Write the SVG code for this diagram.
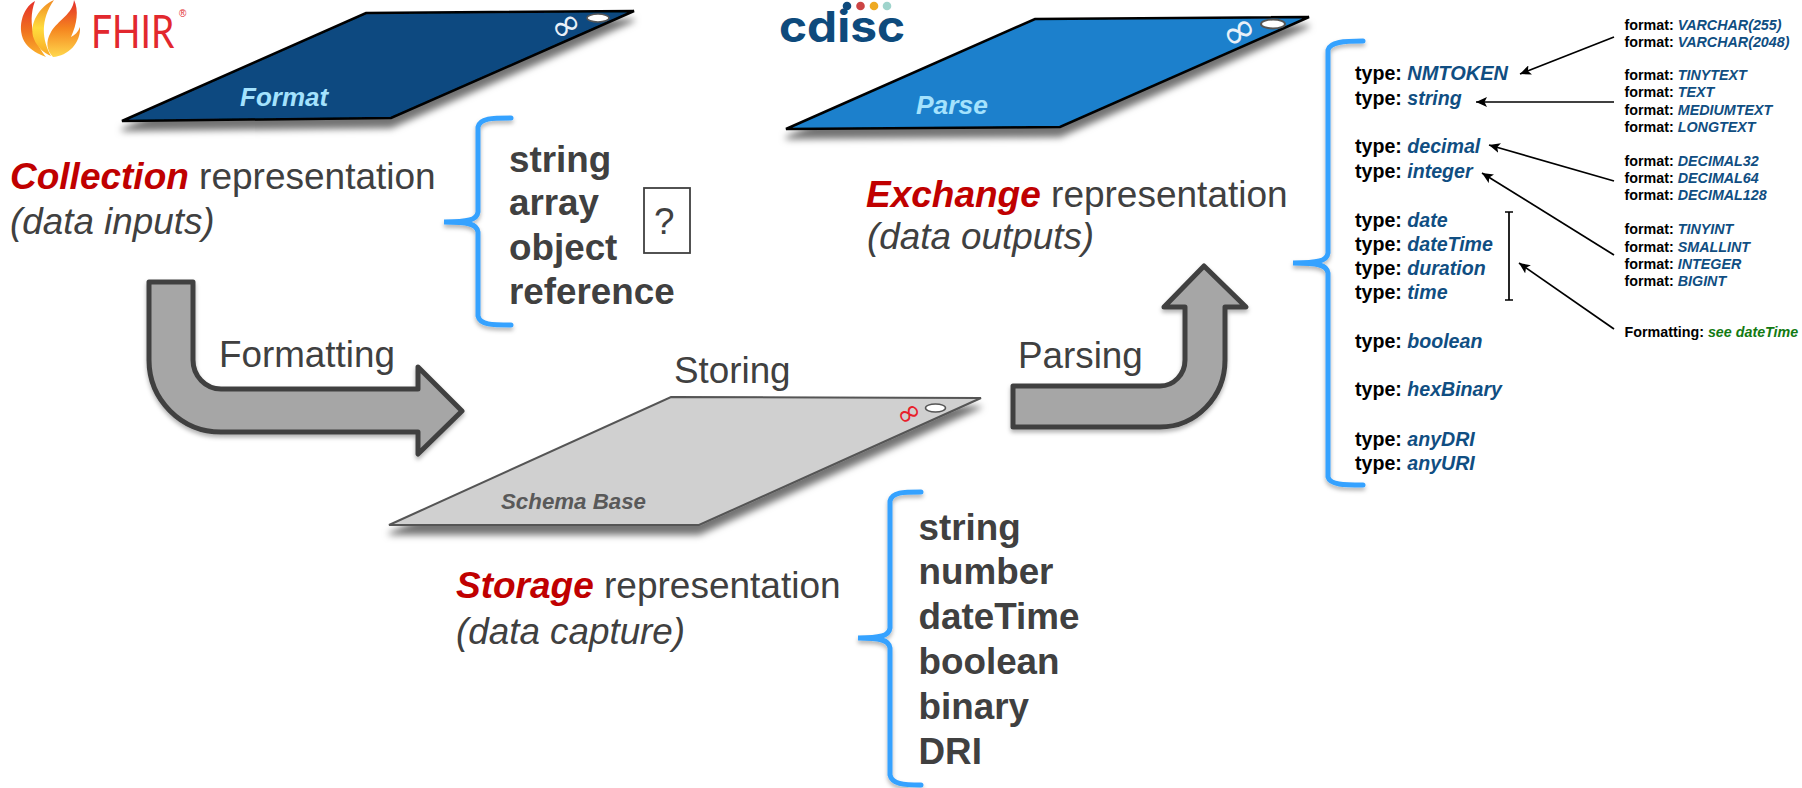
<svg xmlns="http://www.w3.org/2000/svg" width="1802" height="788" viewBox="0 0 1802 788">
<style>
text{font-family:"Liberation Sans",Arial,sans-serif}
.g{fill:#404040}
.h{font-size:37px}
.sub{font-size:36.8px;font-style:italic}
.em{font-weight:bold;font-style:italic;fill:#c00000}
.lst{font-size:36.8px;font-weight:bold}
.lbl{font-size:36.8px}
.ty{font-size:19.6px;font-weight:bold;fill:#000}
.fm{font-size:14.3px;font-weight:bold;fill:#000}
.v{font-style:italic;fill:#104e82}
.gv{font-style:italic;fill:#127a12}
.brace{fill:none;stroke:#36a2ff;stroke-width:5;stroke-linecap:round;filter:url(#soft)}
.big{fill:#a6a6a6;stroke:#404040;stroke-width:5;stroke-linejoin:round;filter:url(#soft)}
.thin{fill:none;stroke:#000;stroke-width:1.7}
.plane{stroke-linejoin:miter;filter:url(#plane)}
.pl{font-weight:bold;font-style:italic}
.inf{font-size:42px;font-family:"DejaVu Sans",sans-serif}
</style>
<defs>
<filter id="plane" x="-10%" y="-10%" width="120%" height="130%"><feDropShadow dx="0" dy="9" stdDeviation="3.5" flood-color="#000" flood-opacity=".55"/></filter>
<filter id="soft" x="-10%" y="-10%" width="120%" height="120%"><feDropShadow dx="0" dy="3" stdDeviation="2" flood-color="#000" flood-opacity=".3"/></filter>
<marker id="ah" markerUnits="userSpaceOnUse" markerWidth="12" markerHeight="10" refX="11" refY="5" orient="auto"><path d="M11,5 L0,0 L2.5,5 L0,10 Z" fill="#000"/></marker>
<linearGradient id="fl1" x1="0" y1="0" x2="0" y2="1"><stop offset="0" stop-color="#e5302a"/><stop offset=".55" stop-color="#f0741f"/><stop offset="1" stop-color="#fbb52d"/></linearGradient>
<linearGradient id="fl2" x1="0" y1="0" x2="0" y2="1"><stop offset="0" stop-color="#f08a23"/><stop offset=".5" stop-color="#ffdc3d"/><stop offset="1" stop-color="#f9a825"/></linearGradient>
<linearGradient id="fl3" x1="0" y1="0" x2="0" y2="1"><stop offset="0" stop-color="#e32b2b"/><stop offset=".5" stop-color="#f5851f"/><stop offset="1" stop-color="#ffd84d"/></linearGradient>
</defs>
<rect width="1802" height="788" fill="#fff"/>

<g id="logo-fhir">
<path d="M35,1 C22,8 16,30 26,44 C31,50 38,54 46,57 C37,45 26,26 35,1 Z" fill="url(#fl1)"/>
<path d="M54,0 C40,6 28,24 34,39 C37,47 44,53 51,56 C42,40 40,20 54,0 Z" fill="url(#fl2)"/>
<path d="M74,0 C73,14 58,20 51,32 C45,42 47,51 53,57 C68,56 81,43 80,27 C78,32 75,35 71,37 C77,24 79,10 74,0 Z" fill="url(#fl3)"/>
<text font-size="46" fill="#e2282e" transform="translate(91,48) scale(.81,1)" style="font-family:Lato,'Liberation Sans',sans-serif;font-weight:400">FHIR</text>
<text x="179" y="17" font-size="10" fill="#e2282e">®</text>
</g>

<g id="logo-cdisc">
<text x="779" y="42" font-size="43" fill="#0e4a7c" style="font-family:Inter,'Liberation Sans',sans-serif;font-weight:700" textLength="126" lengthAdjust="spacingAndGlyphs">cdisc</text>
<circle cx="847" cy="6" r="4.3" fill="#0e4a7c"/><circle cx="860.5" cy="6" r="4.3" fill="#cc4444"/><circle cx="874" cy="6" r="4.3" fill="#eeaa22"/><circle cx="887" cy="6" r="4.3" fill="#9fd4cc"/>
</g>

<g id="connectors">
<path class="big" d="M149,282 L193,282 L193,360 A28,29 0 0 0 221,389 L418,389 L418,367 L462,411 L418,454 L418,432 L221,432 A72,72 0 0 1 149,360 Z"/>
<path class="big" d="M1013,386 L1160,386 A25,26 0 0 0 1185,360 L1185,307 L1164,307 L1204,266 L1246,307 L1225,307 L1225,360 A65,67 0 0 1 1160,427 L1013,427 Z"/>
<path class="thin" marker-end="url(#ah)" d="M1614,37 L1520,74"/>
<path class="thin" marker-end="url(#ah)" d="M1614,102 L1476,102"/>
<path class="thin" marker-end="url(#ah)" d="M1614,181 L1489,145"/>
<path class="thin" marker-end="url(#ah)" d="M1614,255 L1482,173"/>
<path class="thin" marker-end="url(#ah)" d="M1614,329 L1519,263"/>
<path class="thin" d="M1505,212 H1513 M1509,212 V300 M1505,300 H1513"/>
</g>

<g id="node-format">
<polygon class="plane" points="122,121 366,13 634,11 391,118" fill="#0c4a80" stroke="#000" stroke-width="2.5"/>
<text class="pl" x="240" y="106" font-size="26" fill="#a4e2fd">Format</text>
<ellipse cx="598" cy="18" rx="11" ry="4" fill="#fff" stroke="#555" stroke-width="1.5"/>
<text class="inf" style="font-size:37px" fill="#e8f0f8" transform="translate(566,26) rotate(-33) translate(-15.500,11.500)">∞</text>
</g>

<g id="node-parse">
<polygon class="plane" points="786,129 1035,19 1309,17 1060,127" fill="#1a80cc" stroke="#000" stroke-width="2.5"/>
<text class="pl" x="916" y="114" font-size="26.4" fill="#a4e2fd">Parse</text>
<ellipse cx="1273" cy="24" rx="12" ry="4.5" fill="#fff" stroke="#555" stroke-width="2"/>
<text class="inf" fill="#e8f0f8" transform="translate(1239,32) rotate(-33) translate(-17.500,13)">∞</text>
</g>

<g id="node-schema-base">
<polygon class="plane" points="389,525 671,397 981,398 699,525" fill="#d0d0d0" stroke="#555" stroke-width="2"/>
<text class="pl" x="501" y="509" font-size="22.3" fill="#595959">Schema Base</text>
<ellipse cx="935.5" cy="408" rx="10" ry="4" fill="#fff" stroke="#555" stroke-width="1.5"/>
<text class="inf" style="font-size:30px" fill="#e8202a" transform="translate(909,414) rotate(-33) translate(-12.5,9)">∞</text>
</g>

<g id="label-collection">
<text class="h g" x="10" y="189"><tspan class="em">Collection</tspan> representation</text>
<text class="sub g" x="10" y="234">(data inputs)</text>
</g>
<g id="label-exchange">
<text class="h g" x="866" y="207"><tspan class="em">Exchange</tspan> representation</text>
<text class="sub g" x="867" y="249">(data outputs)</text>
</g>
<g id="label-storage">
<text class="h g" x="456" y="598"><tspan class="em">Storage</tspan> representation</text>
<text class="sub g" x="456" y="644">(data capture)</text>
</g>
<text class="lbl g" x="219" y="367">Formatting</text>
<text class="lbl g" x="674" y="383">Storing</text>
<text class="lbl g" x="1018" y="368">Parsing</text>

<g id="list-collection">
<path class="brace" d="M511,118 C492,118 480,118 478,127 L478,212 C477,220 468,222 444,222 C468,222 477,224 478,232 L478,316 C480,325 492,325 511,325"/>
<text class="lst g" x="509" y="172">string</text>
<text class="lst g" x="509" y="215">array</text>
<text class="lst g" x="509" y="260">object</text>
<text class="lst g" x="509" y="304">reference</text>
<rect x="644" y="188" width="46" height="65" fill="none" stroke="#404040" stroke-width="1.8"/>
<text class="lbl g" x="654" y="234">?</text>
</g>

<g id="list-storage">
<path class="brace" d="M921,492 C903,492 892,492 890,501 L890,628 C889,636 880,638 858,638 C880,638 889,640 890,648 L890,775 C892,784 903,785 921,785"/>
<text class="lst g" x="918.500" y="540">string</text>
<text class="lst g" x="918.500" y="584">number</text>
<text class="lst g" x="918.500" y="629">dateTime</text>
<text class="lst g" x="918.500" y="674">boolean</text>
<text class="lst g" x="918.500" y="719">binary</text>
<text class="lst g" x="918.500" y="764">DRI</text>
</g>

<g id="list-exchange">
<path class="brace" d="M1363,41 C1344,41 1330,42 1328,50 L1328,253 C1327,261 1318,263 1293,263 C1318,263 1327,265 1328,273 L1328,477 C1330,485 1344,485 1363,485"/>
<text class="ty" x="1355" y="80">type: <tspan class="v" font-size="20">NMTOKEN</tspan></text>
<text class="ty" x="1355" y="105">type: <tspan class="v">string</tspan></text>
<text class="ty" x="1355" y="153">type: <tspan class="v">decimal</tspan></text>
<text class="ty" x="1355" y="178">type: <tspan class="v">integer</tspan></text>
<text class="ty" x="1355" y="227">type: <tspan class="v">date</tspan></text>
<text class="ty" x="1355" y="251">type: <tspan class="v">dateTime</tspan></text>
<text class="ty" x="1355" y="275">type: <tspan class="v">duration</tspan></text>
<text class="ty" x="1355" y="299">type: <tspan class="v">time</tspan></text>
<text class="ty" x="1355" y="348">type: <tspan class="v">boolean</tspan></text>
<text class="ty" x="1355" y="396">type: <tspan class="v">hexBinary</tspan></text>
<text class="ty" x="1355" y="446">type: <tspan class="v">anyDRI</tspan></text>
<text class="ty" x="1355" y="470">type: <tspan class="v">anyURI</tspan></text>
</g>

<g id="list-formats">
<text class="fm" x="1624.5" y="29.5">format: <tspan class="v">VARCHAR(255)</tspan></text>
<text class="fm" x="1624.5" y="46.5">format: <tspan class="v">VARCHAR(2048)</tspan></text>
<text class="fm" x="1624.5" y="80">format: <tspan class="v">TINYTEXT</tspan></text>
<text class="fm" x="1624.5" y="97">format: <tspan class="v">TEXT</tspan></text>
<text class="fm" x="1624.5" y="115">format: <tspan class="v">MEDIUMTEXT</tspan></text>
<text class="fm" x="1624.5" y="132">format: <tspan class="v">LONGTEXT</tspan></text>
<text class="fm" x="1624.5" y="166">format: <tspan class="v">DECIMAL32</tspan></text>
<text class="fm" x="1624.5" y="183">format: <tspan class="v">DECIMAL64</tspan></text>
<text class="fm" x="1624.5" y="200">format: <tspan class="v">DECIMAL128</tspan></text>
<text class="fm" x="1624.5" y="234">format: <tspan class="v">TINYINT</tspan></text>
<text class="fm" x="1624.5" y="252">format: <tspan class="v">SMALLINT</tspan></text>
<text class="fm" x="1624.5" y="269">format: <tspan class="v">INTEGER</tspan></text>
<text class="fm" x="1624.5" y="286">format: <tspan class="v">BIGINT</tspan></text>
<text class="fm" x="1624.5" y="337">Formatting: <tspan class="gv">see dateTime</tspan></text>
</g>
</svg>
